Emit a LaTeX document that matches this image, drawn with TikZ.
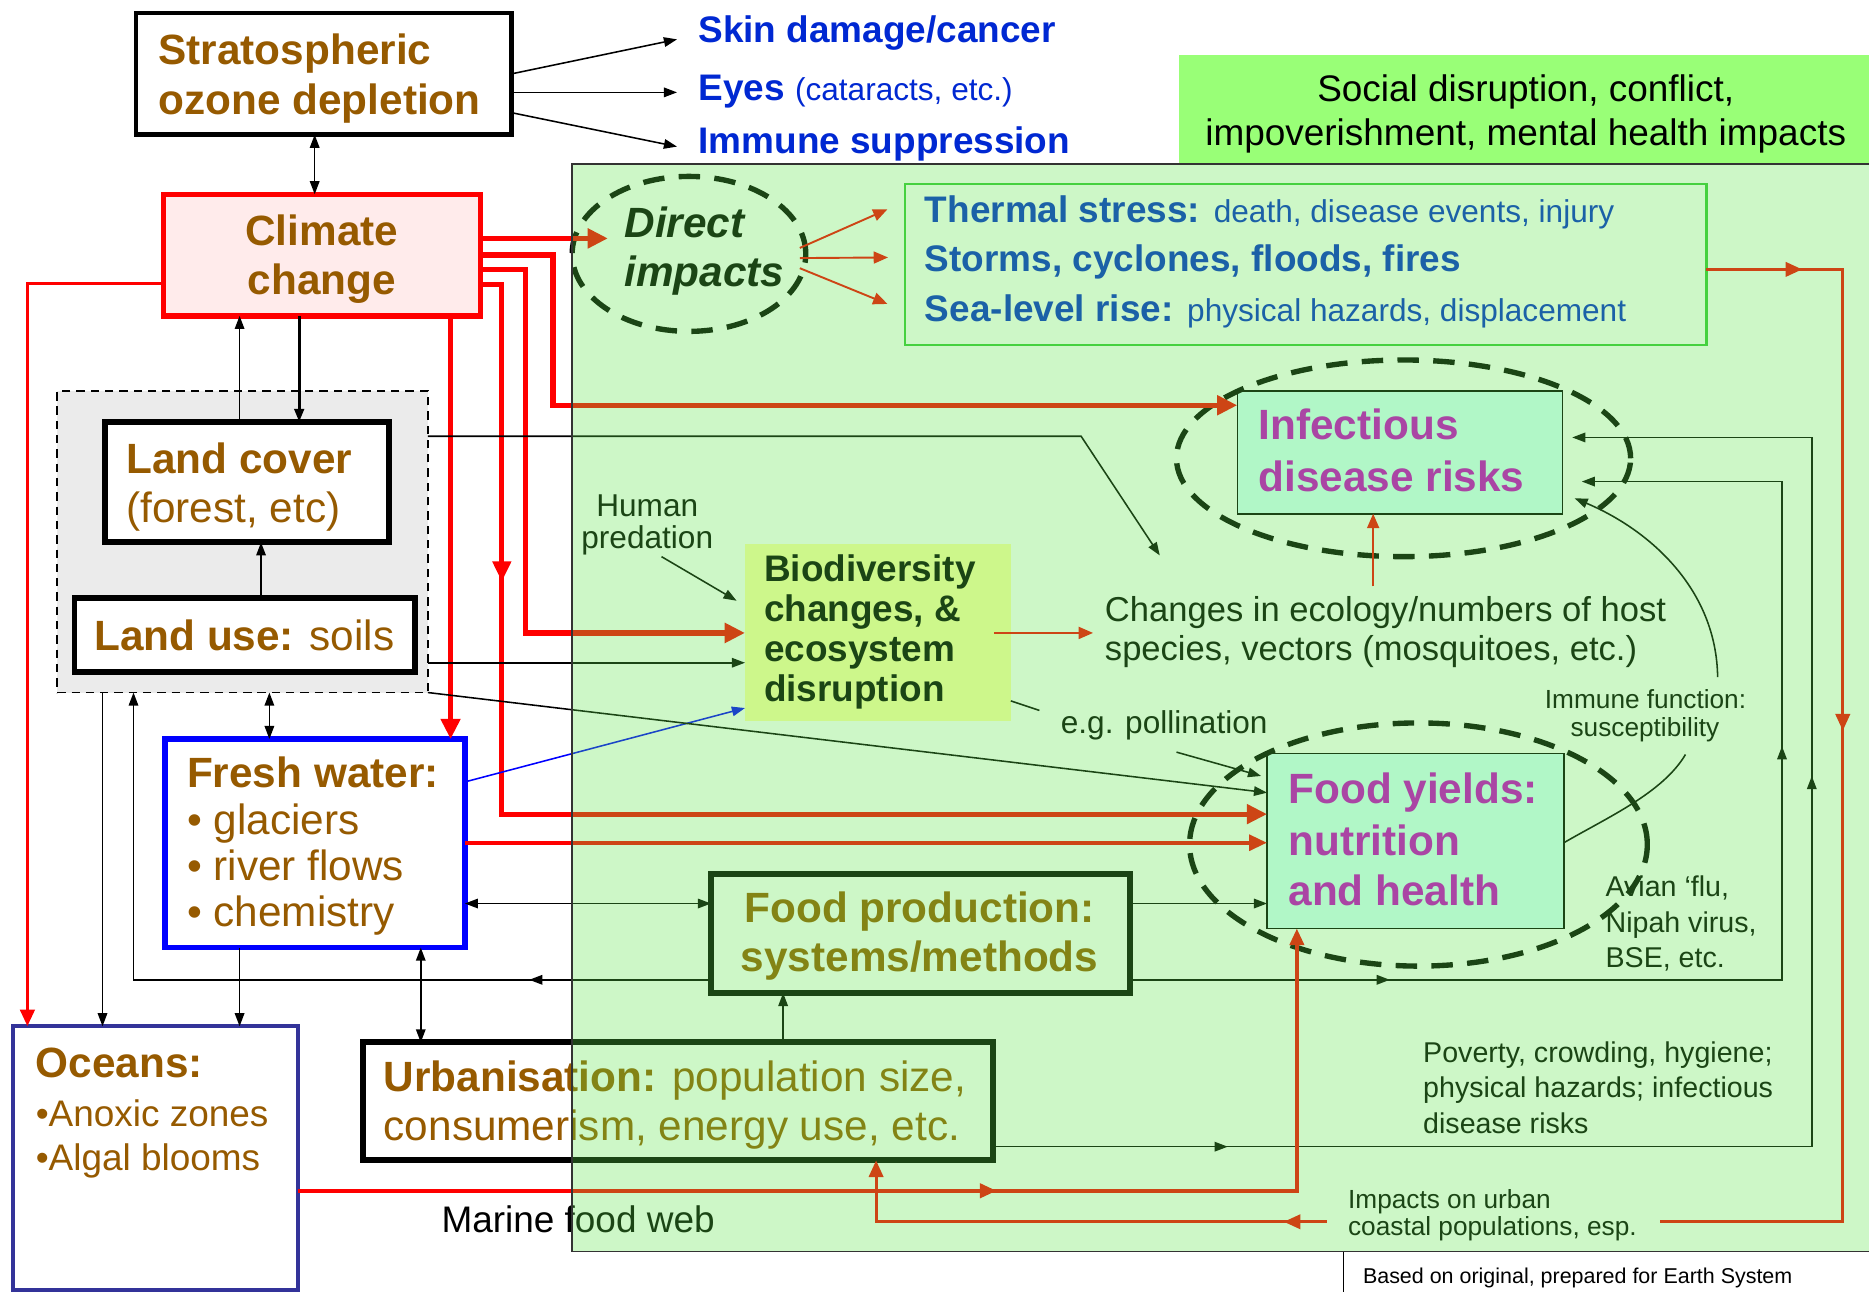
\documentclass[tikz,border=0pt]{standalone}
\usepackage{fontspec}
\setmainfont{Liberation Sans}
\usetikzlibrary{arrows.meta,shapes.geometric}
\definecolor{brn}{RGB}{150,90,0}
\definecolor{blu}{RGB}{0,40,210}
\definecolor{mag}{RGB}{205,0,205}
\definecolor{ovl}{RGB}{90,230,70}
\definecolor{social}{RGB}{153,255,119}
\definecolor{pinkf}{RGB}{255,235,235}
\definecolor{cyanf}{RGB}{215,255,255}
\definecolor{biof}{RGB}{255,255,170}
\definecolor{oceanb}{RGB}{51,51,153}
\definecolor{thermb}{RGB}{60,200,60}
\definecolor{landg}{RGB}{235,235,235}
\newcommand\fsA{\fontsize{35.5}{40}\selectfont}
\newcommand\fsB{\fontsize{31}{36}\selectfont}
\newcommand\fsC{\fontsize{26.5}{30}\selectfont}
\newcommand\fsD{\fontsize{24}{28}\selectfont}
\newcommand\fsE{\fontsize{22}{26}\selectfont}
\newcommand\fsF{\fontsize{18}{22}\selectfont}
\newcommand\fsG{\fontsize{29}{33}\selectfont}
\begin{document}
\begin{tikzpicture}[x=1pt,y=-1pt,
  txt/.style={inner sep=0pt,outer sep=0pt,anchor=base west},
  box/.style={draw,inner sep=0pt,outer sep=0pt},
  thinl/.style={line width=1.3pt},
  arr/.style={thinl,-{Triangle[length=11pt,width=8pt]}},
  darr/.style={thinl,{Triangle[length=11pt,width=8pt]}-{Triangle[length=11pt,width=8pt]}},
  rthick/.style={red,line width=4.5pt,-{Triangle[length=17pt,width=16pt]}},
  rmid/.style={red,line width=3pt,-{Triangle[length=14pt,width=12pt]}},
  rthin/.style={red,line width=1.6pt,-{Triangle[length=12pt,width=10pt]}},
  dashell/.style={ellipse,draw,line width=4.5pt,dash pattern=on 18pt off 12pt,inner sep=0pt,outer sep=0pt},
]
\useasboundingbox (0,0) rectangle (1568,1084);
\fill[white] (0,0) rectangle (1568,1084);

% ---------- social box
\node[box,draw=none,fill=social,minimum width=579pt,minimum height=91pt] (social) at (1278.5,91.5) {};
\node[txt,anchor=base] (soc1) at (1280,85) {\fsB Social disruption, conflict,};
\node[txt,anchor=base] (soc2) at (1280,122) {\fsB impoverishment, mental health impacts};

% ---------- ozone
\node[box,line width=4pt,minimum width=315pt,minimum height=102pt] (ozone) at (271.5,62) {};
\node[txt,text=brn] (strat) at (133,54) {\fsA\bfseries Stratospheric};
\node[txt,text=brn] (ozdep) at (133,96) {\fsA\bfseries ozone depletion};
\node[txt,text=blu] (skin) at (586,36) {\fsB\bfseries Skin damage/cancer};
\node[txt,text=blu] (eyes) at (586,84) {\fsB\bfseries Eyes \fsC\mdseries(cataracts, etc.)};
\node[txt,text=blu] (immune) at (586,129) {\fsB\bfseries Immune suppression};

% ---------- climate
\node[box,draw=red,fill=pinkf,line width=4.5pt,minimum width=266pt,minimum height=102pt] (climate) at (270,214) {};
\node[txt,anchor=base,text=brn] (clim1) at (270,206) {\fsA\bfseries Climate};
\node[txt,anchor=base,text=brn] (clim2) at (270,247) {\fsA\bfseries change};

% ---------- land
\node[box,fill=landg,dash pattern=on 7pt off 5pt,line width=1.6pt,minimum width=311pt,minimum height=253pt] (landreg) at (203.5,454.5) {};
\node[box,fill=white,line width=5pt,minimum width=238pt,minimum height=101pt] (landcover) at (207,404.5) {};
\node[txt,text=brn] (lc1) at (106,397) {\fsA\bfseries Land cover};
\node[txt,text=brn] (lc2) at (106,438) {\fsA (forest, etc)};
\node[box,fill=white,line width=5pt,minimum width=286pt,minimum height=62pt] (landuse) at (205.5,532.5) {};
\node[txt,anchor=base,text=brn] (lu) at (205,546) {\fsA\textbf{Land use:} soils};

% ---------- fresh water
\node[box,draw=blue,fill=white,line width=4.5pt,minimum width=251.5pt,minimum height=175pt] (fresh) at (264.25,707.5) {};
\node[txt,text=brn] (fw1) at (157,661) {\fsA\bfseries Fresh water:};
\node[txt,text=brn] (fw2) at (157,700) {\fsA • glaciers};
\node[txt,text=brn] (fw3) at (157,739) {\fsA • river flows};
\node[txt,text=brn] (fw4) at (157,777) {\fsA • chemistry};

% ---------- oceans
\node[box,draw=oceanb,line width=3.5pt,minimum width=239pt,minimum height=221pt] (oceans) at (130.5,971.5) {};
\node[txt,text=brn] (oc1) at (30,904) {\fsA\bfseries Oceans:};
\node[txt,text=brn] (oc2) at (30,945) {\fsB •Anoxic zones};
\node[txt,text=brn] (oc3) at (30,982) {\fsB •Algal blooms};

% ---------- urbanisation
\node[box,line width=5pt,minimum width=528.5pt,minimum height=99pt] (urban) at (568.75,924) {};
\node[txt,text=brn] (ur1) at (322,916) {\fsA\textbf{Urbanisation:} population size,};
\node[txt,text=brn] (ur2) at (322,957) {\fsA consumerism, energy use, etc.};

% ---------- food production
\node[box,line width=5pt,minimum width=351.5pt,minimum height=99.5pt] (foodprod) at (772.25,783.25) {};
\node[txt,anchor=base,text=brn] (fp1) at (771.5,774) {\fsA\bfseries Food production:};
\node[txt,anchor=base,text=brn] (fp2) at (771.5,815) {\fsA\bfseries systems/methods};
\node[txt,anchor=base] (marine) at (485,1034) {\fsB Marine food web};

% ---------- thermal
\node[box,draw=thermb,line width=2pt,minimum width=672.6pt,minimum height=135pt] (thermal) at (1095.3,221.9) {};
\node[txt,text=blu] (th1) at (776,187) {\fsB\textbf{Thermal stress:} \fsC death, disease events, injury};
\node[txt,text=blu] (th2) at (776,228) {\fsB\bfseries Storms, cyclones, floods, fires};
\node[txt,text=blu] (th3) at (776,270) {\fsB\textbf{Sea-level rise:} \fsC physical hazards, displacement};

% ---------- direct impacts
\node[dashell,minimum width=196pt,minimum height=130pt] (direct) at (578,213) {};
\node[txt] (dir1) at (524,199) {\fsA\bfseries\itshape Direct};
\node[txt] (dir2) at (524,240) {\fsA\bfseries\itshape impacts};

% ---------- biodiversity
\node[box,draw=none,fill=biof,minimum width=223pt,minimum height=149pt] (biodiv) at (736.5,530.5) {};
\node[txt] (bd1) at (641,488) {\fsB\bfseries Biodiversity};
\node[txt] (bd2) at (641,521.5) {\fsB\bfseries changes, \&};
\node[txt] (bd3) at (641,555) {\fsB\bfseries ecosystem};
\node[txt] (bd4) at (641,588.5) {\fsB\bfseries disruption};
\node[txt,anchor=base] (hp1) at (543,433) {\fsC Human};
\node[txt,anchor=base] (hp2) at (543,460) {\fsC predation};
\node[txt] (ch1) at (927,521.5) {\fsG Changes in ecology/numbers of host};
\node[txt] (ch2) at (927,554) {\fsG species, vectors (mosquitoes, etc.)};
\node[txt] (poll) at (890,615) {\fsC e.g. pollination};

% ---------- infectious
\node[box,fill=cyanf,line width=1.3pt,minimum width=273pt,minimum height=103pt] (infect) at (1174.5,379.5) {};
\node[txt,text=mag] (in1) at (1056,369) {\fsA\bfseries Infectious};
\node[txt,text=mag] (in2) at (1056,412.5) {\fsA\bfseries disease risks};
\node[dashell,minimum width=381pt,minimum height=165pt] (infell) at (1177.5,384.5) {};

% ---------- food yields
\node[box,fill=cyanf,line width=1.3pt,minimum width=249pt,minimum height=147pt] (foodyield) at (1187.5,705.5) {};
\node[txt,text=mag] (fy1) at (1081,674) {\fsA\bfseries Food yields:};
\node[txt,text=mag] (fy2) at (1081,717.5) {\fsA\bfseries nutrition};
\node[txt,text=mag] (fy3) at (1081,759.5) {\fsA\bfseries and health};
\node[dashell,minimum width=384pt,minimum height=204pt] (foodell) at (1190,708.5) {};

% ---------- small labels
\node[txt,anchor=base] (imf1) at (1380.5,594) {\fsE Immune function:};
\node[txt,anchor=base] (imf2) at (1380,618) {\fsE susceptibility};
\node[txt] (av1) at (1347,752.5) {\fsD Avian ‘flu,};
\node[txt] (av2) at (1347,782.5) {\fsD Nipah virus,};
\node[txt] (av3) at (1347,812) {\fsD BSE, etc.};
\node[txt] (pv1) at (1194,891.5) {\fsD Poverty, crowding, hygiene;};
\node[txt] (pv2) at (1194,920.5) {\fsD physical hazards; infectious};
\node[txt] (pv3) at (1194,951) {\fsD disease risks};
\node[txt] (im1) at (1131,1013.5) {\fsE Impacts on urban};
\node[txt] (im2) at (1131,1036.5) {\fsE coastal populations, esp.};

% ---------- named free ends
\coordinate (skinT) at (568,33);
\coordinate (eyesT) at (568,77.5);
\coordinate (immT) at (568,123);
\coordinate (dirT) at (510,200);
\coordinate (chgT) at (973,466);
\coordinate (hpS) at (555,467);
\coordinate (hpT) at (618,504);
\coordinate (th1T) at (744.5,175.6);
\coordinate (th2T) at (745,216);
\coordinate (th3T) at (744.5,255);
\coordinate (bdS) at (834,531);
\coordinate (chT) at (917,531);
\coordinate (chS) at (1152,492);
\coordinate (plS) at (987,631);
\coordinate (plT) at (1058,651);
\coordinate (inT1) at (1327,404);
\coordinate (inT2) at (1319,367);
\coordinate (inT3) at (1321,418);

% ---------- connectors
\draw[darr] (ozone.south -| 264,0) -- (climate.north -| 264,0);
\draw[arr] (ozone.east) -- (skinT);
\draw[arr] (ozone.east |- eyesT) -- (eyesT);
\draw[arr] (ozone.east |- 0,94.5) -- (immT);

\draw[rthick] (climate.east |- dirT) -- (dirT);
\draw[rthick] (climate.east |- 0,214) -| (464,340) -- (infect.west |- 0,340);
\draw[rthick] (climate.east |- 0,226) -| (441,531) -- (biodiv.west |- 0,531);
\draw[rthick,line width=4pt] (climate.east |- 0,239) -| (421,683) -- (foodyield.west |- 0,683);
\draw[red,line width=4pt,-{Triangle[length=17pt,width=15pt]}] (421,470) -- (421,488);
\draw[rthick,line width=4pt] (climate.south -| 378,0) -- (fresh.north -| 378,0);
\draw[rmid] (climate.west |- 0,238) -| (oceans.north -| 23,0);

\draw[arr] (landcover.north -| 201,0) -- (climate.south -| 201,0);
\draw[arr,line width=2.5pt] (climate.south -| 251,0) -- (landcover.north -| 251,0);
\draw[arr] (landuse.north -| 219,0) -- (landcover.south -| 219,0);
\draw[darr] (landreg.south -| 226,0) -- (fresh.north -| 226,0);
\draw[arr] (landreg.south -| 86,0) -- (oceans.north -| 86,0);
\draw[arr] (foodprod.west |- 0,822) -| (landreg.south -| 112,0);
\draw[arr] (460,822) -- (444,822);
\draw[arr] (fresh.south -| 201,0) -- (oceans.north -| 201,0);
\draw[darr] (fresh.south -| 353,0) -- (urban.north -| 353,0);
\draw[darr] (fresh.east |- 0,758) -- (foodprod.west |- 0,758);
\draw[arr] (urban.north -| 657,0) -- (foodprod.south -| 657,0);
\draw[arr] (landreg.east |- 0,556) -- (biodiv.west |- 0,556);
\draw[arr] (landreg.east |- 0,366) -- (907,366) -- (chgT);
\draw[arr,blue] (fresh.east |- 0,656) -- (biodiv.west |- 0,594);
\draw[arr] (landreg.south east) -- (foodyield.west |- 0,665);
\draw[arr] (hpS) -- (hpT);

\draw[rthin] (671,208) -- (th1T);
\draw[rthin] (671,216.5) -- (th2T);
\draw[rthin] (671,225) -- (th3T);
\draw[rthin] (bdS) -- (chT);
\draw[rthin] (chS) -- (infect.south -| chS);
\draw[thinl] (848,588) -- (872,596);
\draw[arr] (plS) -- (plT);
\draw[arr] (foodprod.east |- 0,758) -- (foodyield.west |- 0,758);
\draw[red,line width=3.5pt,-{Triangle[length=15pt,width=13pt]}] (fresh.east |- 0,707) -- (foodyield.west |- 0,707);

\draw[arr] (foodprod.east |- 0,822) -- (1495,822) -- (1495,404) -- (inT1);
\draw[arr] (1150,822) -- (1166,822);
\draw[arr] (1495,642) -- (1495,626);
\draw[arr] (urban.east |- 0,962) -- (1520,962) -- (1520,367) -- (inT2);
\draw[arr] (1014,962) -- (1030,962);
\draw[arr] (1520,667) -- (1520,651);

\draw[thinl] (foodyield.east |- 0,707) .. controls (1350,685) and (1395,665) .. (1414,633);
\draw[arr] (1441,568) .. controls (1440,495) and (1385,445) .. (inT3);

\draw[rmid] (oceans.east |- 0,999) -| (foodyield.south -| 1088,0);
\draw[rmid] (820,999) -- (836,999);

\draw[red,line width=2.5pt] (thermal.east |- 0,226) -- (1546,226) -- (1546,1025) -- (1393,1025);
\draw[red,line width=2.5pt,-{Triangle[length=14pt,width=12pt]}] (1113,1025) -| (urban.south -| 735,0);
\draw[red,line width=2.5pt,-{Triangle[length=14pt,width=12pt]}] (1495,226) -- (1512,226);
\draw[red,line width=2.5pt,-{Triangle[length=14pt,width=12pt]}] (1546,596) -- (1546,613);
\draw[red,line width=2.5pt,-{Triangle[length=14pt,width=12pt]}] (1094,1025) -- (1077,1025);

% ---------- green overlay
\fill[ovl,fill opacity=0.3] (480,137.5) rectangle (1568,1050);
\draw[line width=1.5pt,black!80] (480,1050) -- (480,137.5) -- (1568,137.5);
\draw[line width=1.5pt,black!80] (480,1050) -- (1568,1050);
\draw[line width=1.3pt] (1127,1050) -- (1127,1084);
\node[txt] (based) at (1143.5,1077) {\fsF Based on original, prepared for Earth System};
\end{tikzpicture}
\end{document}
